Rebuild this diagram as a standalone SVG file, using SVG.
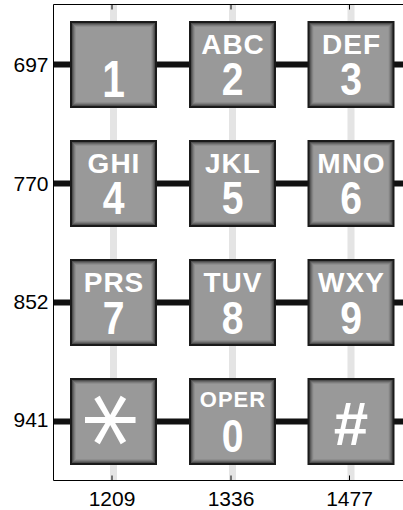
<svg xmlns="http://www.w3.org/2000/svg" xmlns:xlink="http://www.w3.org/1999/xlink" width="403" height="510" viewBox="0 0 403 510">
<style>
.ax{stroke:#000;stroke-width:1;fill:none}
.tick{stroke:#000;stroke-width:1}
.row{stroke:#111;stroke-width:6}
.col{stroke:#e4e4e4;stroke-width:7}
.lab{font-family:"Liberation Sans",Arial,sans-serif;font-size:21px;fill:#000}
.lt{font-family:"Liberation Sans",Arial,sans-serif;font-weight:bold;font-size:28px;fill:#fff;text-anchor:middle;letter-spacing:1px}
.dg{font-family:"Liberation Sans",Arial,sans-serif;font-weight:bold;font-size:46px;fill:#fff;text-anchor:middle}
</style>
<defs>
<g id="keybase">
<rect x="0" y="0" width="87" height="87" fill="#1a1a1a"/>
<rect x="2" y="2" width="83" height="83" fill="#4e4e4e"/>
<rect x="3" y="3" width="81" height="81" fill="#676767"/>
<rect x="4" y="4" width="79" height="79" fill="#7d7d7d"/>
<rect x="5" y="5" width="77" height="77" fill="#8e8e8e"/>
<rect x="6" y="6" width="75" height="75" fill="#999"/>
</g>
</defs>
<rect width="403" height="510" fill="#fff"/>
<g id="connectors">
<line class="col" x1="113.5" y1="5" x2="113.5" y2="480"/>
<line class="col" x1="232.5" y1="5" x2="232.5" y2="480"/>
<line class="col" x1="351" y1="5" x2="351" y2="480"/>
<line class="row" x1="54" y1="64.5" x2="403" y2="64.5"/>
<line class="row" x1="54" y1="183.5" x2="403" y2="183.5"/>
<line class="row" x1="54" y1="302.5" x2="403" y2="302.5"/>
<line class="row" x1="54" y1="421.5" x2="403" y2="421.5"/>
</g>
<g id="axes">
<path class="ax" d="M403,4.5 H53.5 V480.5 H403"/>
<line class="tick" x1="112" y1="5" x2="112" y2="9.5"/>
<line class="tick" x1="231" y1="5" x2="231" y2="9.5"/>
<line class="tick" x1="349.5" y1="5" x2="349.5" y2="9.5"/>
<line class="tick" x1="112" y1="475.5" x2="112" y2="480"/>
<line class="tick" x1="231" y1="475.5" x2="231" y2="480"/>
<line class="tick" x1="349.5" y1="475.5" x2="349.5" y2="480"/>
<text class="lab" x="48.5" y="71.5" text-anchor="end">697</text>
<text class="lab" x="48.5" y="190.5" text-anchor="end">770</text>
<text class="lab" x="48.5" y="309" text-anchor="end">852</text>
<text class="lab" x="48.5" y="427" text-anchor="end">941</text>
<text class="lab" x="112" y="505.5" text-anchor="middle">1209</text>
<text class="lab" x="231" y="505.5" text-anchor="middle">1336</text>
<text class="lab" x="349.5" y="505.5" text-anchor="middle">1477</text>
</g>
<g id="key-1"><use xlink:href="#keybase" x="70" y="21"/><text class="dg" transform="translate(113.5,97) scale(0.8,1)" style="font-size:51px">1</text></g>
<g id="key-2"><use xlink:href="#keybase" x="189" y="21"/><text class="lt" x="233" y="53.5">ABC</text><text class="dg" transform="translate(232.5,94.5) scale(0.85,1)">2</text></g>
<g id="key-3"><use xlink:href="#keybase" x="307.5" y="21"/><text class="lt" x="351.5" y="53.5">DEF</text><text class="dg" transform="translate(351,94.5) scale(0.85,1)">3</text></g>
<g id="key-4"><use xlink:href="#keybase" x="70" y="140"/><text class="lt" x="114" y="172.5">GHI</text><text class="dg" transform="translate(113.5,213.5) scale(0.85,1)">4</text></g>
<g id="key-5"><use xlink:href="#keybase" x="189" y="140"/><text class="lt" x="233" y="172.5">JKL</text><text class="dg" transform="translate(232.5,213.5) scale(0.85,1)">5</text></g>
<g id="key-6"><use xlink:href="#keybase" x="307.5" y="140"/><text class="lt" x="351.5" y="172.5">MNO</text><text class="dg" transform="translate(351,213.5) scale(0.85,1)">6</text></g>
<g id="key-7"><use xlink:href="#keybase" x="70" y="259"/><text class="lt" x="114" y="292">PRS</text><text class="dg" transform="translate(113.5,333.5) scale(0.85,1)">7</text></g>
<g id="key-8"><use xlink:href="#keybase" x="189" y="259"/><text class="lt" x="233" y="292">TUV</text><text class="dg" transform="translate(232.5,333.5) scale(0.85,1)">8</text></g>
<g id="key-9"><use xlink:href="#keybase" x="307.5" y="259"/><text class="lt" x="351.5" y="292">WXY</text><text class="dg" transform="translate(351,333.5) scale(0.85,1)">9</text></g>
<g id="key-star"><use xlink:href="#keybase" x="70" y="378"/><text class="dg" transform="translate(53,420) rotate(90)" x="0" y="0" style="font-family:'DejaVu Sans',sans-serif;font-weight:normal;font-size:110px">*</text></g>
<g id="key-0"><use xlink:href="#keybase" x="189" y="378"/><text class="lt" x="233" y="407" style="font-size:22px;letter-spacing:1px">OPER</text><text class="dg" transform="translate(232.5,452) scale(0.85,1)">0</text></g>
<g id="key-hash"><use xlink:href="#keybase" x="307.5" y="378"/><text class="dg" x="351" y="445" style="font-size:62px">#</text></g>
</svg>
